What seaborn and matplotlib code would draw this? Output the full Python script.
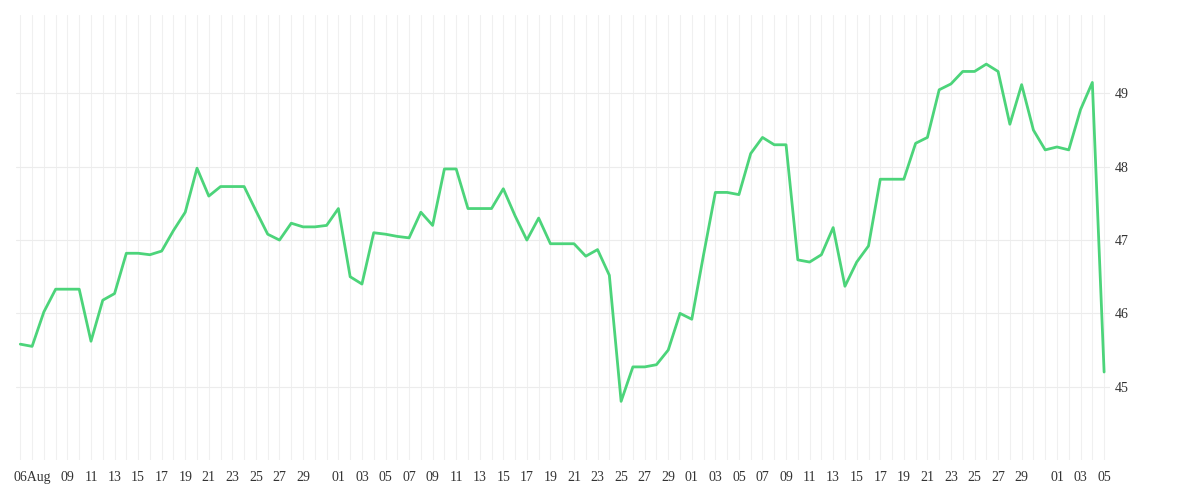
import pandas as pd
import numpy as np
import matplotlib
matplotlib.use("Agg")
import matplotlib.pyplot as plt
import matplotlib.dates as mdates
import seaborn as sns

values = [45.58, 45.55, 46.02, 46.33, 46.33, 46.33, 45.62, 46.18, 46.27, 46.82,
          46.82, 46.80, 46.85, 47.13, 47.38, 47.98, 47.60, 47.73, 47.73, 47.73,
          47.40, 47.08, 47.00, 47.23, 47.18, 47.18, 47.20, 47.43, 46.50, 46.40,
          47.10, 47.08, 47.05, 47.03, 47.38, 47.20, 47.97, 47.97, 47.43, 47.43,
          47.43, 47.70, 47.33, 47.00, 47.30, 46.95, 46.95, 46.95, 46.78, 46.87,
          46.52, 44.80, 45.27, 45.27, 45.30, 45.50, 46.00, 45.92, 46.80, 47.65,
          47.65, 47.62, 48.18, 48.40, 48.30, 48.30, 46.73, 46.70, 46.80, 47.17,
          46.37, 46.70, 46.92, 47.83, 47.83, 47.83, 48.32, 48.40, 49.05, 49.13,
          49.30, 49.30, 49.40, 49.30, 48.58, 49.12, 48.50, 48.23, 48.27, 48.23,
          48.78, 49.15, 45.20]
dates = pd.date_range("2023-08-05", periods=len(values), freq="D")
tick_dates = pd.to_datetime(["2023-08-06"] +
    [f"2023-08-{d:02d}" for d in range(9, 30, 2)] +
    [f"2023-09-{d:02d}" for d in range(1, 30, 2)] +
    [f"2023-10-{d:02d}" for d in range(1, 30, 2)] +
    [f"2023-11-{d:02d}" for d in range(1, 6, 2)])
tick_labels = ["06Aug"] + [d.strftime("%d") for d in tick_dates[1:]]

df = pd.DataFrame({"date": dates, "value": values})

sns.set_style("white")
plt.rcParams["font.family"] = ["Liberation Serif", "DejaVu Serif"]

fig, ax = plt.subplots(figsize=(12, 5), dpi=100)
fig.subplots_adjust(left=0.013, right=0.925, top=0.97, bottom=0.08)
sns.lineplot(data=df, x="date", y="value", ax=ax, color="#4cd47a", linewidth=2)

ax.set_xlim(dates[0] - pd.Timedelta(days=0.4), dates[-1] + pd.Timedelta(days=0.5))
ax.set_ylim(44.0, 50.07)
ax.yaxis.tick_right()
ax.set_yticks([45, 46, 47, 48, 49])
ax.set_xticks(tick_dates)
ax.set_xticklabels(tick_labels)
ax.xaxis.set_minor_locator(mdates.DayLocator())
ax.grid(True, which="both", axis="x", color="#f0f0f0", linewidth=0.8)
ax.grid(True, which="major", axis="y", color="#ececec", linewidth=0.8)
ax.tick_params(axis="both", which="both", length=0, labelsize=10, colors="#333333")
ax.tick_params(axis="x", pad=8)
for s in ax.spines.values():
    s.set_visible(False)
ax.set_xlabel("")
ax.set_ylabel("")

plt.savefig("out.png")
